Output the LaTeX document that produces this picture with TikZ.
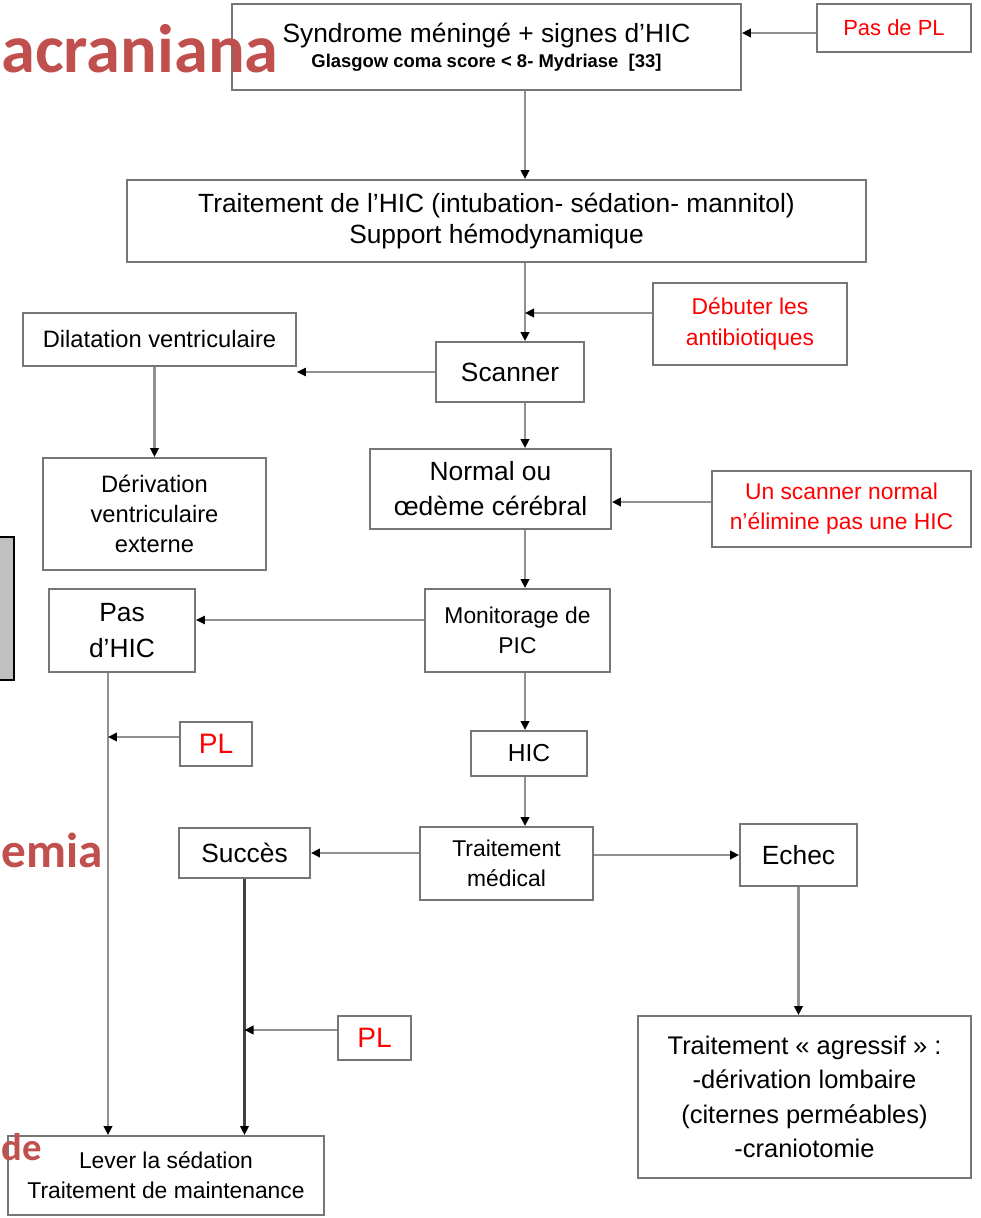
\documentclass[tikz,border=0pt]{standalone}
\usepackage{fontspec}
\setmainfont{Liberation Sans}
\newfontfamily\slidefont{Carlito}
\usetikzlibrary{arrows.meta}
\definecolor{boxgray}{RGB}{118,118,118}
\definecolor{linegray}{RGB}{145,145,145}
\definecolor{slidered}{RGB}{192,80,77}
\definecolor{notered}{RGB}{255,0,0}
\definecolor{panelgray}{RGB}{192,192,192}

\newcommand{\fs}[2]{\fontsize{#1}{#2}\selectfont}

\begin{document}
\begin{tikzpicture}[x=0.02cm,y=-0.02cm,>=Triangle,
    box/.style={draw=boxgray,line width=1.1pt,fill=white,align=center,inner sep=0pt},
    note/.style={box,text=notered},
    arr/.style={draw=linegray,line width=1.5pt,-{Triangle[length=1.8mm,width=1.7mm,color=black]}},
    thinarr/.style={arr,line width=0.6pt},
    slideword/.style={anchor=base west,inner sep=0pt,text=slidered,font=\slidefont\bfseries\fs{#1}{#1}}]
    % page frame
    \useasboundingbox (0,0) rectangle (981,1218);

    % piece of the slide behind, on the left
    \draw[fill=panelgray,line width=0.8pt] (-5,537) rectangle (14,680);

    % levels of the side connectors
    \coordinate (spine) at (525,0);
    \coordinate (rail) at (108,0);
    \coordinate (lvpas) at (0,33);
    \coordinate (lvatb) at (0,313);
    \coordinate (lvunscan) at (0,502);
    \coordinate (lvmon) at (0,620);
    \coordinate (lvpl1) at (0,737);
    \coordinate (lvpl2) at (0,1030);

    % main column
    \node[box,minimum width=10.18cm,minimum height=1.72cm,font=\fs{15}{16}] (syndrome) at (486.5,47)
        {Syndrome méningé + signes d’HIC\\[-2pt]{\fs{10.5}{12}\bfseries Glasgow coma score < 8- Mydriase\ \ [33]}};
    \node[box,minimum width=14.78cm,minimum height=1.64cm,font=\fs{15}{17.6}] (treat) at (496.5,221)
        {Traitement de l’HIC (intubation- sédation- mannitol)\\Support hémodynamique};
    \node[box,minimum width=2.96cm,minimum height=1.2cm,font=\fs{15}{18}] (scanner) at (510,372) {Scanner};
    \node[box,minimum width=4.82cm,minimum height=1.6cm,font=\fs{15}{20}] (normal) at (490.5,489)
        {Normal ou\\œdème cérébral};
    \node[box,minimum width=3.7cm,minimum height=1.66cm,font=\fs{13}{17}] (monitor) at (517.5,630.5)
        {Monitorage de\\PIC};
    \node[box,minimum width=2.32cm,minimum height=0.9cm,font=\fs{14}{17}] (hic) at (529,753.5) {HIC};
    \node[box,minimum width=3.46cm,minimum height=1.46cm,font=\fs{13}{17}] (medical) at (506.5,863.5)
        {Traitement\\médical};

    % red notes
    \node[note,minimum width=3.08cm,minimum height=0.96cm,font=\fs{12.5}{15}] (paspl) at (894,28) {Pas de PL};
    \node[note,minimum width=3.88cm,minimum height=1.64cm,font=\fs{13}{17.5}] (atb) at (750,324)
        {Débuter les\\antibiotiques};
    \node[note,minimum width=5.18cm,minimum height=1.52cm,font=\fs{13}{17}] (unscan) at (841.5,509)
        {Un scanner normal\\n’élimine pas une HIC};
    \node[note,minimum width=1.44cm,minimum height=0.88cm,font=\fs{16}{18}] (pl1) at (216,744) {PL};
    \node[note,minimum width=1.46cm,minimum height=0.88cm,font=\fs{16}{18}] (pl2) at (374.5,1038) {PL};

    % side branches
    \node[box,minimum width=5.46cm,minimum height=1.06cm,font=\fs{13.5}{16}] (dilat) at (159.5,339.5)
        {Dilatation ventriculaire};
    \node[box,minimum width=4.46cm,minimum height=2.24cm,font=\fs{13.5}{17}] (dve) at (154.5,514)
        {Dérivation\\ventriculaire\\externe};
    \node[box,minimum width=2.92cm,minimum height=1.66cm,font=\fs{15}{20}] (pashic) at (122,630.5)
        {Pas\\d’HIC};
    \node[box,minimum width=2.62cm,minimum height=1.0cm,font=\fs{15}{18}] (success) at (244.5,853) {Succès};
    \node[box,minimum width=2.34cm,minimum height=1.24cm,font=\fs{15}{18}] (failure) at (798.5,855) {Echec};
    \node[box,minimum width=6.66cm,minimum height=3.24cm,font=\fs{14.5}{19.5}] (aggressive) at (804.5,1097)
        {Traitement «~agressif~» :\\-dérivation lombaire\\(citernes perméables)\\-craniotomie};
    \node[box,minimum width=6.32cm,minimum height=1.58cm,font=\fs{13}{17}] (lever) at (166,1175.5)
        {Lever la sédation\\Traitement de maintenance};

    % connectors of the main column
    \draw[arr] (paspl.west |- lvpas) -- (syndrome.east |- lvpas);
    \draw[arr] (syndrome.south -| spine) -- (treat.north -| spine);
    \draw[arr] (treat.south -| spine) -- (scanner.north -| spine);
    \draw[arr] (atb.west |- lvatb) -- (spine |- lvatb);
    \draw[arr] (scanner.south -| spine) -- (normal.north -| spine);
    \draw[arr] (unscan.west |- lvunscan) -- (normal.east |- lvunscan);
    \draw[arr] (normal.south -| spine) -- (monitor.north -| spine);
    \draw[arr] (monitor.south -| spine) -- (hic.north -| spine);
    \draw[arr] (hic.south -| spine) -- (medical.north -| spine);

    % connectors of the branches
    \draw[thinarr] (scanner.west) -- (scanner.west -| dilat.east);
    \draw[arr] (dve.north |- dilat.south) -- (dve.north);
    \draw[thinarr] (monitor.west |- lvmon) -- (pashic.east |- lvmon);
    \draw[arr] (medical.west |- success.east) -- (success.east);
    \draw[arr] (medical.east |- failure.west) -- (failure.west);
    \draw[arr] (failure.south) -- (failure.south |- aggressive.north);
    \draw[arr] (pashic.south -| rail) -- (lever.north -| rail);
    \draw[arr] (pl1.west |- lvpl1) -- (rail |- lvpl1);
    \draw[arr,draw=black!75,line width=1.2pt] (success.south) -- (success.south |- lever.north);
    \draw[arr] (pl2.west |- lvpl2) -- (success.south |- lvpl2);

    % words of the slide behind
    \node[slideword=39] (wordtop) at (1,72) {acraniana};
    \node[slideword=28] (wordmid) at (1,867) {emia};
    \node[slideword=22] (wordlow) at (1,1160) {de};
\end{tikzpicture}
\end{document}
